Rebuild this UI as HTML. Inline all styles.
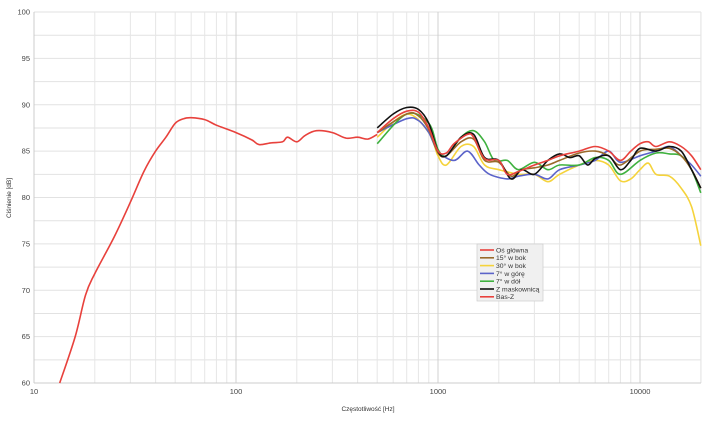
<!DOCTYPE html>
<html><head><meta charset="utf-8"><style>
html,body{margin:0;padding:0;background:#fff;}
svg{display:block;font-family:"Liberation Sans",sans-serif;}
</style></head><body>
<svg id="s" width="708" height="422" viewBox="0 0 708 422" xmlns="http://www.w3.org/2000/svg">
<g id="grid"></g>
<g id="labels" font-size="7.5" fill="#444"></g>
<text x="368" y="411" font-size="6.5" text-anchor="middle" fill="#333">Częstotliwość [Hz]</text>
<text x="11" y="198" font-size="6.5" text-anchor="middle" fill="#333" transform="rotate(-90 11 198)">Ciśnienie [dB]</text>
<g id="curves" fill="none" stroke-width="1.6" stroke-linejoin="round"></g>
<g id="legend"></g>
</svg>
<script>
var L=34,R=701,T=12,B=383;
function X(f){return L+202*Math.log10(f/10);}
function Y(d){return B-(d-60)*(B-T)/40;}
var ns="http://www.w3.org/2000/svg";
function el(p,t,a,txt){var e=document.createElementNS(ns,t);for(var k in a)e.setAttribute(k,a[k]);if(txt)e.textContent=txt;document.getElementById(p).appendChild(e);return e;}
for(var d=60;d<=100;d+=2.5){el("grid","line",{x1:L,x2:R,y1:Y(d),y2:Y(d),stroke:"#e2e2e2","stroke-width":1});}
for(var dec=10;dec<=10000;dec*=10){for(var m=1;m<10;m++){var f=dec*m;if(f>20000)break;el("grid","line",{x1:X(f),x2:X(f),y1:T,y2:B,stroke:m==1?"#d0d0d0":"#e6e6e6","stroke-width":1});}}
el("grid","line",{x1:R,x2:R,y1:T,y2:B,stroke:"#e6e6e6"});
el("grid","line",{x1:L,x2:L,y1:T,y2:B,stroke:"#ccc"});
el("grid","line",{x1:L,x2:R,y1:B,y2:B,stroke:"#ccc"});
for(var d=60;d<=100;d+=5){el("labels","text",{x:30,y:Y(d)+2.5,"text-anchor":"end"},String(d));}
[10,100,1000,10000].forEach(function(f){el("labels","text",{x:X(f),y:394,"text-anchor":"middle"},String(f));});
function path(pts){var p=pts.map(function(q){return [X(q[0]),Y(q[1])];});var s="M"+p[0][0].toFixed(1)+","+p[0][1].toFixed(1);
for(var i=0;i<p.length-1;i++){var p0=p[i-1]||p[i],p1=p[i],p2=p[i+1],p3=p[i+2]||p2;
var c1=[p1[0]+(p2[0]-p0[0])/6,p1[1]+(p2[1]-p0[1])/6],c2=[p2[0]-(p3[0]-p1[0])/6,p2[1]-(p3[1]-p1[1])/6];
s+="C"+c1[0].toFixed(1)+","+c1[1].toFixed(1)+" "+c2[0].toFixed(1)+","+c2[1].toFixed(1)+" "+p2[0].toFixed(1)+","+p2[1].toFixed(1);}return s;}
var S=[
["#f5d33b",[[500,86.5],[700,89],[900,87],[1000,84.5],[1100,83.5],[1300,85.5],[1500,85.5],[1700,83.5],[2000,83],[2500,82.5],[3000,82.5],[3500,81.7],[4000,82.5],[5000,83.5],[6000,84],[7000,83.5],[8000,81.8],[9000,82],[10000,83],[11000,83.7],[12000,82.5],[14000,82.3],[16000,81],[18000,79],[20000,74.8]]],
["#5b63c9",[[500,87],[700,88.5],[800,88.3],[900,87],[1000,85],[1200,84],[1400,85],[1600,83.5],[1800,82.5],[2200,82],[2500,82.3],[3000,82.5],[3500,82],[4000,83],[5000,83.5],[6000,84],[7000,85],[8000,83.8],[10000,84.5],[12000,85],[14000,85.5],[16000,84.5],[18000,83.5],[20000,82.3]]],
["#3fb13f",[[500,85.8],[700,89],[900,88],[1000,85.2],[1100,84.5],[1300,86.5],[1500,87.2],[1700,86],[1900,84],[2200,84],[2500,83],[3000,83.8],[3500,83],[4000,83.5],[5000,83.5],[6000,84.3],[7000,84],[8000,82.5],[10000,84],[12000,84.8],[14000,84.7],[16000,84.5],[18000,83],[20000,80.5]]],
["#9a6a2a",[[500,87],[700,89],[800,88.8],[900,87.3],[1000,84.8],[1100,84.5],[1300,86],[1500,86.3],[1700,84],[2000,83.8],[2300,82.3],[2600,83],[3000,83.2],[3500,83.5],[4000,84],[5000,84.8],[6000,85],[7000,84.5],[8000,83.5],[10000,85],[12000,85.2],[14000,85.3],[16000,84.5],[18000,83],[20000,81]]],
["#111",[[500,87.5],[600,89],[700,89.7],[800,89.5],[900,88],[1000,85],[1100,84.5],[1300,86.5],[1500,86.8],[1700,84.3],[2000,84],[2300,82],[2600,83],[3000,82.5],[3500,84],[4000,84.7],[4500,84.3],[5000,84.5],[5500,83.5],[6000,84.2],[7000,84.5],[8000,83],[9000,84],[10000,85.3],[12000,85],[14000,85.5],[16000,85],[18000,83],[20000,81]]],
["#e8413c",[[500,87],[600,88.5],[700,89.3],[800,89.2],[900,87.5],[1000,85],[1100,84.8],[1200,85.8],[1400,86.8],[1500,86.5],[1700,84.2],[2000,84],[2200,82.5],[2500,82.8],[3000,83.5],[3500,84],[4000,84.5],[5000,85],[6000,85.5],[7000,85],[8000,84],[9000,85],[10000,85.8],[11000,86],[12000,85.5],[14000,86],[16000,85.5],[18000,84.5],[20000,83]]],
["#e8413c",[[13.4,60],[16,65],[18,69.5],[20,71.8],[25,75.8],[30,79.5],[35,82.8],[40,85],[45,86.5],[50,88],[55,88.5],[60,88.6],[70,88.4],[80,87.8],[100,87],[120,86.2],[130,85.7],[150,85.9],[170,86],[180,86.5],[200,86],[220,86.7],[250,87.2],[300,87],[350,86.4],[400,86.5],[450,86.3],[500,86.8]]]
];
S.forEach(function(s){el("curves","path",{d:path(s[1]),stroke:s[0]});});
el("legend","rect",{x:477,y:244,width:66,height:57,fill:"#f0f0f0",stroke:"#ccc","stroke-width":0.7});
var lg=[["Oś główna","#e8413c"],["15° w bok","#9a6a2a"],["30° w bok","#f5d33b"],["7° w górę","#5b63c9"],["7° w dół","#3fb13f"],["Z maskownicą","#111"],["Bas-Z","#e8413c"]];
lg.forEach(function(e,i){var y=250+i*7.8;el("legend","line",{x1:480,x2:494,y1:y,y2:y,stroke:e[1],"stroke-width":1.6});el("legend","text",{x:496,y:y+2.4,"font-size":6.8,fill:"#333"},e[0]);});
</script>
</body></html>
